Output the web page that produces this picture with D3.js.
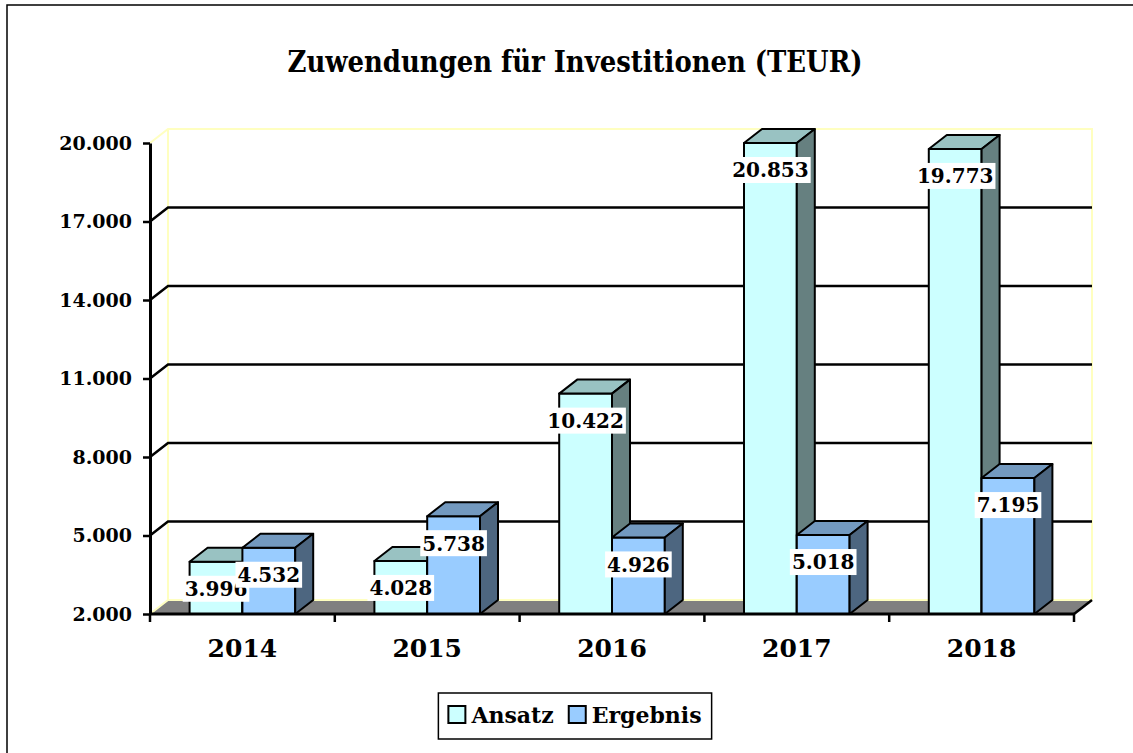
<!DOCTYPE html>
<html>
<head>
<meta charset="utf-8">
<script src="https://cdn.jsdelivr.net/npm/d3@7"></script>
<style>
  html, body { margin: 0; padding: 0; background: #fff; overflow: hidden; }
  svg { display: block; font-family: 'DejaVu Serif', serif; font-weight: bold; }
</style>
</head>
<body>
<svg width="1133" height="753"></svg>
<script>
'use strict'

const years = ['2014', '2015', '2016', '2017', '2018'];
const seriesNames = ['Ansatz', 'Ergebnis'];
const ansatz = [3996, 4028, 10422, 20853, 19773];
const ergebnis = [4532, 5738, 4926, 5018, 7195];
const yTicks = [2000, 5000, 8000, 11000, 14000, 17000, 20000];

const LEFT = 150;
const RIGHT = 1074;
const TOP = 143;
const BOTTOM = 614;
const DX = 18;    // depth offset of the 3d look
const DY = -14;
const LABEL_DROP = 27;

const colors = {
  Ansatz: { front: '#ccffff', top: '#99c2c2', side: '#668080' },
  Ergebnis: { front: '#99ccff', top: '#7399bf', side: '#4d6680' }
};

const de = d3.formatLocale({ decimal: ',', thousands: '.', grouping: [3], currency: ['', ' €'] });
const fmt = de.format(',d');

const svg = d3.select('svg');

const x0 = d3.scaleBand().domain(years).range([LEFT, RIGHT]);
const x1 = d3.scaleBand().domain(seriesNames).range([0, x0.bandwidth()]).paddingOuter(0.75);
const y = d3.scaleLinear().domain([2000, 20000]).range([BOTTOM, TOP]).clamp(true);

// outer frame, only top and left edges are inside the picture
svg.append('path')
  .attr('d', 'M7,760V5H1140')
  .attr('fill', 'none')
  .attr('stroke', '#000')
  .attr('stroke-width', 1.5);

// title
svg.append('text')
  .attr('x', 575).attr('y', 72)
  .attr('text-anchor', 'middle')
  .attr('font-size', 29)
  .attr('textLength', 575)
  .attr('lengthAdjust', 'spacingAndGlyphs')
  .text('Zuwendungen für Investitionen (TEUR)');

// back wall outline
const wall = svg.append('g')
  .attr('fill', 'none')
  .attr('stroke', '#ffffc0')
  .attr('stroke-width', 2);

wall.append('path')
  .attr('d', `M${LEFT},${y(20000)}L${LEFT + DX},${y(20000) + DY}H${RIGHT + DX}V${y(2000) + DY}`);
wall.append('path')
  .attr('d', `M${LEFT + DX},${y(20000) + DY}V${y(2000) + DY}`);

// gridlines on the wall
svg.append('g')
  .selectAll('path')
  .data(yTicks.filter(d => d > 2000 && d < 20000))
  .join('path')
  .attr('d', d => `M${LEFT},${y(d)}L${LEFT + DX},${y(d) + DY}H${RIGHT + DX}`)
  .attr('fill', 'none')
  .attr('stroke', '#000')
  .attr('stroke-width', 2.5);

// floor
svg.append('path')
  .attr('d', `M${LEFT},${BOTTOM}L${LEFT + DX},${BOTTOM + DY}H${RIGHT + DX}L${RIGHT},${BOTTOM}Z`)
  .attr('fill', '#808080');
svg.append('path')
  .attr('d', `M${LEFT},${BOTTOM}L${LEFT + DX},${BOTTOM + DY}H${RIGHT + DX}`)
  .attr('fill', 'none')
  .attr('stroke', '#ffffc0')
  .attr('stroke-width', 2);
svg.append('path')
  .attr('d', `M${RIGHT},${BOTTOM}L${RIGHT + DX},${BOTTOM + DY}`)
  .attr('stroke', '#000')
  .attr('stroke-width', 2.5);

// bars
const bars = [];
years.forEach((yr, i) => {
  bars.push({ year: yr, series: 'Ansatz', value: ansatz[i] });
  bars.push({ year: yr, series: 'Ergebnis', value: ergebnis[i] });
});

const w = x1.bandwidth();
const barG = svg.append('g')
  .selectAll('g')
  .data(bars)
  .join('g')
  .attr('stroke', '#000')
  .attr('stroke-width', 2)
  .attr('stroke-linejoin', 'round');

barG.each(function (d) {
  const g = d3.select(this);
  const xl = x0(d.year) + x1(d.series);
  const yt = y(d.value);
  const c = colors[d.series];
  g.append('rect')
    .attr('x', xl).attr('y', yt)
    .attr('width', w).attr('height', BOTTOM - yt)
    .attr('fill', c.front);
  g.append('path')
    .attr('d', `M${xl},${yt}L${xl + DX},${yt + DY}H${xl + w + DX}L${xl + w},${yt}Z`)
    .attr('fill', c.top);
  g.append('path')
    .attr('d', `M${xl + w},${yt}L${xl + w + DX},${yt + DY}V${BOTTOM + DY}L${xl + w},${BOTTOM}Z`)
    .attr('fill', c.side);
});

// y axis
const yAxis = svg.append('g')
  .attr('transform', `translate(${LEFT},0)`)
  .call(d3.axisLeft(y).tickValues(yTicks).tickFormat(fmt).tickSize(7).tickSizeOuter(0).tickPadding(11));
yAxis.select('.domain').attr('stroke-width', 3);
yAxis.selectAll('.tick line').attr('stroke-width', 2.5);
yAxis.selectAll('.tick text')
  .attr('font-size', 19)
  .attr('font-family', 'DejaVu Serif')
  .attr('font-weight', 'bold')
  .attr('fill', '#000');

// x axis with ticks on band edges
svg.append('line')
  .attr('x1', LEFT).attr('x2', RIGHT)
  .attr('y1', BOTTOM).attr('y2', BOTTOM)
  .attr('stroke', '#000')
  .attr('stroke-width', 3);
svg.append('g')
  .selectAll('line')
  .data(years.map(d => x0(d)).concat([RIGHT]))
  .join('line')
  .attr('x1', d => d).attr('x2', d => d)
  .attr('y1', BOTTOM).attr('y2', BOTTOM + 8)
  .attr('stroke', '#000')
  .attr('stroke-width', 2.5);
svg.append('g')
  .selectAll('text')
  .data(years)
  .join('text')
  .attr('x', d => x0(d) + x0.bandwidth() / 2)
  .attr('y', 657)
  .attr('text-anchor', 'middle')
  .attr('font-size', 25)
  .text(d => d);

// value labels
const labels = svg.append('g')
  .selectAll('g')
  .data(bars)
  .join('g')
  .attr('transform', d => `translate(${x0(d.year) + x1(d.series) + w / 2},${y(d.value) + LABEL_DROP})`);
labels.append('text')
  .attr('text-anchor', 'middle')
  .attr('dy', '0.37em')
  .attr('font-size', 20)
  .text(d => fmt(d.value));
labels.each(function () {
  const g = d3.select(this);
  const tw = g.select('text').node().getComputedTextLength();
  g.insert('rect', 'text')
    .attr('x', -tw / 2 - 2).attr('y', -13)
    .attr('width', tw + 4).attr('height', 26)
    .attr('fill', '#fff');
});

// legend
const legend = svg.append('g');
const legBox = legend.append('rect')
  .attr('fill', '#fff')
  .attr('stroke', '#000')
  .attr('stroke-width', 1.5);
const items = legend.append('g')
  .selectAll('g')
  .data(seriesNames)
  .join('g');
items.append('rect')
  .attr('width', 17).attr('height', 17)
  .attr('y', -17)
  .attr('fill', d => colors[d].front)
  .attr('stroke', '#000')
  .attr('stroke-width', 2);
items.append('text')
  .attr('x', 23)
  .attr('font-size', 22)
  .text(d => d);

const offsets = [];
let pos = 0;
items.each(function () {
  offsets.push(pos);
  pos += 23 + d3.select(this).select('text').node().getComputedTextLength() + 15;
});
const legW = pos - 15 + 20;
const legX = 575 - legW / 2;
items.attr('transform', (d, i) => `translate(${legX + 10 + offsets[i]},723)`);
legBox
  .attr('x', legX).attr('y', 693)
  .attr('width', legW).attr('height', 46);
</script>
</body>
</html>
